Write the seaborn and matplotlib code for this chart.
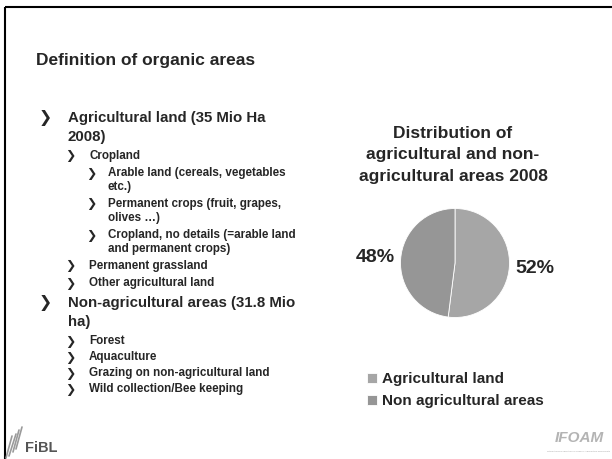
import matplotlib
matplotlib.use('Agg')
import matplotlib.pyplot as plt
import seaborn as sns

# data
slide_title = 'Definition of organic areas'
chart_title = ['Distribution of', 'agricultural and non-', 'agricultural areas 2008']
categories = ['Agricultural land', 'Non agricultural areas']
shares = [52, 48]
bullets = [
    (1, ['Agricultural land (35 Mio Ha', '2008)']),
    (2, ['Cropland']),
    (3, ['Arable land (cereals, vegetables', 'etc.)']),
    (3, ['Permanent crops (fruit, grapes,', 'olives \u2026)']),
    (3, ['Cropland, no details (=arable land', 'and permanent crops)']),
    (2, ['Permanent grassland']),
    (2, ['Other agricultural land']),
    (1, ['Non-agricultural areas (31.8 Mio', 'ha)']),
    (2, ['Forest']),
    (2, ['Aquaculture']),
    (2, ['Grazing on non-agricultural land']),
    (2, ['Wild collection/Bee keeping']),
]

sns.set_style('white')
plt.rcParams['font.family'] = ['Liberation Sans', 'DejaVu Sans']
plt.rcParams['font.weight'] = 'bold'
colors = sns.color_palette(['#a6a6a6', '#969696'])

W, H = 612, 459
fig = plt.figure(figsize=(6.12, 4.59), dpi=100)
bg = fig.add_axes([0, 0, 1, 1])
bg.set_xlim(0, W)
bg.set_ylim(H, 0)
bg.axis('off')

# slide frame (left and top edges only)
bg.plot([5, 5], [7, H], color='black', lw=1.5, solid_capstyle='butt')
bg.plot([5, W], [7, 7], color='black', lw=1.5, solid_capstyle='butt')

bg.text(36, 60, slide_title, fontsize=12.5, fontweight='bold', va='center')

# bullet list
bullet_x = {1: 45, 2: 70, 3: 91}
text_x = {1: 68, 2: 89, 3: 108}
sizes = {1: 10.8, 2: 8.4, 3: 8.4}
line_gap = {1: 19, 2: 14, 3: 14}
y_pos = [118, 156, 173, 204, 235, 266, 283, 303, 341, 357, 373, 389]
for (lvl, lines), y in zip(bullets, y_pos):
    bg.text(bullet_x[lvl], y, '\u276f', fontsize=sizes[lvl] * 1.05, va='center',
            ha='center', family='DejaVu Sans', fontweight='bold')
    for i, ln in enumerate(lines):
        bg.text(text_x[lvl], y + i * line_gap[lvl], ln, fontsize=sizes[lvl],
                fontweight='bold', va='center')

# chart title
for i, ln in enumerate(chart_title):
    bg.text(453, 133 + i * 22, ln, fontsize=12.5, fontweight='bold',
            ha='center', va='center')

# pie
cx, cy, r = 455, 263, 54.5
pax = fig.add_axes([(cx - r) / W, 1 - (cy + r) / H, 2 * r / W, 2 * r / H])
wedges, _, pct = pax.pie(shares, colors=colors, startangle=90, counterclock=False,
                         autopct=lambda p: f'{p:.0f}%', pctdistance=1.47,
                         wedgeprops=dict(edgecolor='white', linewidth=0.6),
                         textprops=dict(fontsize=14, fontweight='bold'))
pax.set_xlim(-1, 1)
pax.set_ylim(-1, 1)

fig.legend(wedges, categories, loc='upper left',
           bbox_to_anchor=(367 / W, 1 - 372 / H), frameon=False,
           handlelength=0.65, handleheight=0.65, handletextpad=0.3,
           labelspacing=0.55, borderpad=0, borderaxespad=0,
           prop=dict(size=11, weight='bold'))

# logos
for x0, x1, y0 in [(6, 12, 458), (9, 16, 456), (13, 19, 452), (16, 22, 449)]:
    bg.plot([x0, x1], [y0, y0 - 22], color='#9a9a9a', lw=1.2)
bg.text(25, 448, 'FiBL', fontsize=10.5, fontweight='bold', color='#555555', va='center')
bg.text(579, 438, 'IFOAM', fontsize=11, fontstyle='italic', fontweight='bold',
        color='#b4b4b4', ha='center', va='center')
bg.text(579, 451, 'International Federation of Organic Agriculture Movements',
        fontsize=1.6, color='#bbbbbb', ha='center', va='center')

fig.savefig('out.png', dpi=100)
